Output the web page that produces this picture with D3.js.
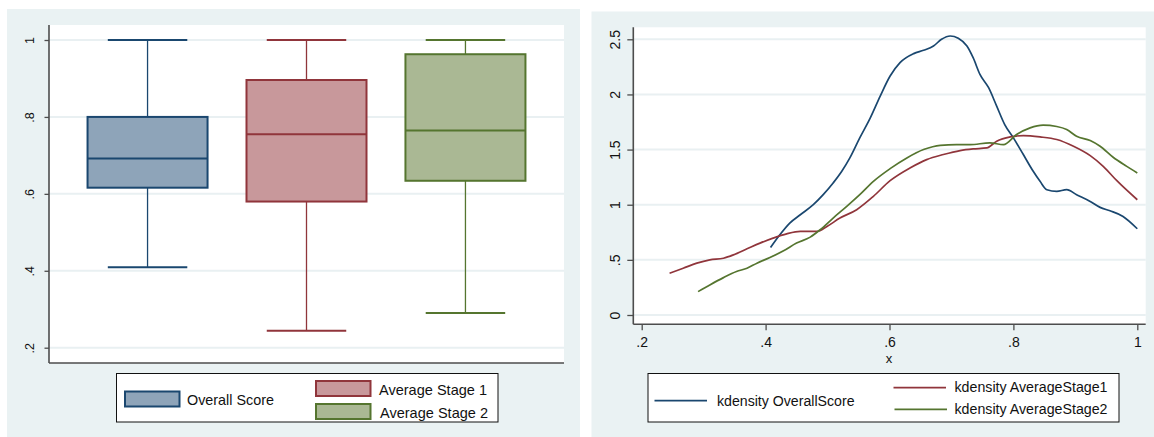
<!DOCTYPE html>
<html><head><meta charset="utf-8">
<script src="https://cdn.jsdelivr.net/npm/d3@7"></script>
<style>html,body{margin:0;padding:0;background:#fff}svg{display:block}text{font-family:"Liberation Sans",Arial,sans-serif;fill:#111}</style>
</head><body><svg id="c" width="1154" height="437"></svg>
<script>
// ---- Box plot data ----
const categories = ["Overall Score", "Average Stage 1", "Average Stage 2"];
const whiskerHigh = [1.0, 1.0, 1.0];
const q3 = [0.800, 0.896, 0.963];
const median = [0.692, 0.755, 0.765];
const q1 = [0.616, 0.580, 0.634];
const whiskerLow = [0.409, 0.244, 0.290];
const boxTicks = [0.2, 0.4, 0.6, 0.8, 1];
const boxTickLabels = [".2", ".4", ".6", ".8", "1"];

// ---- Kernel density data ----
const densNames = ["kdensity OverallScore", "kdensity AverageStage1", "kdensity AverageStage2"];
const overallX = [0.408,0.423,0.439,0.456,0.477,0.493,0.509,0.523,0.536,0.552,0.569,0.585,0.601,0.617,0.639,0.655,0.671,0.684,0.698,0.711,0.725,0.735,0.746,0.760,0.773,0.786,0.800,0.816,0.832,0.843,0.854,0.870,0.886,0.902,0.924,0.940,0.956,0.977,1.0];
const overallY = [0.612,0.727,0.833,0.909,1.0,1.091,1.197,1.303,1.424,1.606,1.788,1.985,2.167,2.288,2.370,2.400,2.439,2.500,2.530,2.509,2.439,2.333,2.182,2.061,1.894,1.727,1.606,1.455,1.303,1.212,1.136,1.121,1.136,1.091,1.030,0.976,0.945,0.894,0.782];
const stage1X = [0.245,0.267,0.289,0.310,0.332,0.348,0.370,0.391,0.412,0.434,0.456,0.483,0.499,0.520,0.547,0.574,0.601,0.633,0.660,0.687,0.714,0.735,0.757,0.773,0.795,0.816,0.843,0.870,0.897,0.924,0.945,0.967,1.0];
const stage1Y = [0.379,0.424,0.470,0.500,0.515,0.545,0.600,0.652,0.697,0.736,0.758,0.758,0.803,0.879,0.955,1.076,1.218,1.333,1.409,1.455,1.491,1.506,1.515,1.576,1.615,1.627,1.615,1.591,1.530,1.445,1.348,1.218,1.045];
const stage2X = [0.291,0.310,0.332,0.353,0.370,0.386,0.407,0.429,0.450,0.472,0.488,0.509,0.531,0.552,0.574,0.601,0.628,0.655,0.682,0.708,0.730,0.762,0.784,0.805,0.827,0.848,0.870,0.886,0.902,0.924,0.940,0.961,0.983,1.0];
const stage2Y = [0.212,0.273,0.339,0.394,0.424,0.470,0.521,0.582,0.652,0.706,0.773,0.879,0.985,1.091,1.212,1.327,1.424,1.500,1.539,1.545,1.545,1.561,1.545,1.636,1.697,1.721,1.709,1.682,1.621,1.582,1.530,1.430,1.348,1.288];
const densXTicks = [0.2, 0.4, 0.6, 0.8, 1];
const densXTickLabels = [".2", ".4", ".6", ".8", "1"];
const densYTicks = [0, 0.5, 1, 1.5, 2, 2.5];
const densYTickLabels = ["0", ".5", "1", "1.5", "2", "2.5"];

const lineColors = ["#1a476f", "#90353b", "#55752f"];
const fillColors = ["#8ea4b9", "#c8989b", "#aab894"];
const bgColor = "#eaf2f3";
const gridColor = "#e9f0f2";
const axisColor = "#4d4d4d";
const FONT = '"Liberation Sans",Arial,sans-serif';

const svg = d3.select("#c");

// ================= LEFT PANEL =================
const L = svg.append("g");
L.append("rect").attr("x", 7).attr("y", 9).attr("width", 573).attr("height", 428).attr("fill", bgColor);
const lx0 = 49, lx1 = 564, ly0 = 25, ly1 = 363;
L.append("rect").attr("x", lx0).attr("y", ly0).attr("width", lx1 - lx0).attr("height", ly1 - ly0).attr("fill", "#fff");
const yB = d3.scaleLinear().domain([0.2, 1]).range([347.7, 40]);
const xB = d3.scalePoint().domain(categories).range([lx0, lx1]).padding(0.62);
const step = xB.step();
L.selectAll(".g").data(boxTicks).join("line")
  .attr("x1", lx0).attr("x2", lx1).attr("y1", d => yB(d)).attr("y2", d => yB(d))
  .attr("stroke", gridColor).attr("stroke-width", 2);
const yAxL = d3.axisLeft(yB).tickValues(boxTicks).tickFormat((d, i) => boxTickLabels[i]).tickSize(4.5).tickSizeOuter(0);
const gyL = L.append("g").attr("transform", `translate(${lx0},0)`).call(yAxL);
gyL.select(".domain").remove();
gyL.selectAll(".tick line").attr("stroke", axisColor).attr("stroke-width", 1.3);
gyL.selectAll(".tick text").attr("transform", "rotate(-90)").attr("x", 0).attr("y", -15).attr("dy", 0)
  .attr("text-anchor", "middle").style("font-size", "12.5px").style("font-family", FONT).attr("fill", "#111");
L.append("line").attr("x1", lx0).attr("x2", lx0).attr("y1", ly0).attr("y2", ly1).attr("stroke", axisColor).attr("stroke-width", 1.6);
L.append("line").attr("x1", lx0).attr("x2", lx1).attr("y1", ly1).attr("y2", ly1).attr("stroke", axisColor).attr("stroke-width", 1.6);
const boxW = step * 0.755, capW = step * 0.5;
categories.forEach((c, i) => {
  const cx = xB(c);
  const g = L.append("g");
  g.append("line").attr("x1", cx).attr("x2", cx).attr("y1", yB(whiskerHigh[i])).attr("y2", yB(q3[i])).attr("stroke", lineColors[i]).attr("stroke-width", 1.3);
  g.append("line").attr("x1", cx).attr("x2", cx).attr("y1", yB(q1[i])).attr("y2", yB(whiskerLow[i])).attr("stroke", lineColors[i]).attr("stroke-width", 1.3);
  g.append("line").attr("x1", cx - capW / 2).attr("x2", cx + capW / 2).attr("y1", yB(whiskerHigh[i])).attr("y2", yB(whiskerHigh[i])).attr("stroke", lineColors[i]).attr("stroke-width", 2);
  g.append("line").attr("x1", cx - capW / 2).attr("x2", cx + capW / 2).attr("y1", yB(whiskerLow[i])).attr("y2", yB(whiskerLow[i])).attr("stroke", lineColors[i]).attr("stroke-width", 2);
  g.append("rect").attr("x", cx - boxW / 2).attr("y", yB(q3[i])).attr("width", boxW).attr("height", yB(q1[i]) - yB(q3[i]))
    .attr("fill", fillColors[i]).attr("stroke", lineColors[i]).attr("stroke-width", 2);
  g.append("line").attr("x1", cx - boxW / 2).attr("x2", cx + boxW / 2).attr("y1", yB(median[i])).attr("y2", yB(median[i])).attr("stroke", lineColors[i]).attr("stroke-width", 2);
});
L.append("rect").attr("x", 116.5).attr("y", 373.5).attr("width", 381.5).attr("height", 48.5).attr("fill", "#fff").attr("stroke", "#111").attr("stroke-width", 1);
const legL = [
  {sx: 125, sy: 391.5, tx: 187, ty: 404.5, tl: 87},
  {sx: 316, sy: 381, tx: 379, ty: 395, tl: 108},
  {sx: 316, sy: 404, tx: 380, ty: 417.5, tl: 108}
];
legL.forEach((p, i) => {
  L.append("rect").attr("x", p.sx).attr("y", p.sy).attr("width", 54.5).attr("height", 15).attr("fill", fillColors[i]).attr("stroke", lineColors[i]).attr("stroke-width", 2);
  L.append("text").attr("x", p.tx).attr("y", p.ty).style("font-size", "15px").attr("textLength", p.tl).attr("lengthAdjust", "spacingAndGlyphs").text(categories[i]);
});

// ================= RIGHT PANEL =================
const R = svg.append("g");
R.append("rect").attr("x", 591.5).attr("y", 11.5).attr("width", 1154 - 591.5).attr("height", 437 - 11.5).attr("fill", bgColor);
const rx0 = 633.3, rx1 = 1145.7, ry0 = 27.3, ry1 = 324.3;
R.append("rect").attr("x", rx0).attr("y", ry0).attr("width", rx1 - rx0).attr("height", ry1 - ry0).attr("fill", "#fff");
const xD = d3.scaleLinear().domain([0.2, 1]).range([641.7, 1137.3]);
const yD = d3.scaleLinear().domain([0, 2.5]).range([315, 39.3]);
R.selectAll(".g").data(densYTicks).join("line")
  .attr("x1", rx0).attr("x2", rx1).attr("y1", d => yD(d)).attr("y2", d => yD(d))
  .attr("stroke", gridColor).attr("stroke-width", 2);
const gyR = R.append("g").attr("transform", `translate(${rx0},0)`).call(d3.axisLeft(yD).tickValues(densYTicks).tickFormat((d, i) => densYTickLabels[i]).tickSize(6).tickSizeOuter(0));
gyR.select(".domain").remove();
gyR.selectAll(".tick line").attr("stroke", axisColor).attr("stroke-width", 1.3);
gyR.selectAll(".tick text").attr("transform", "rotate(-90)").attr("x", 0).attr("y", -13.5).attr("dy", 0)
  .attr("text-anchor", "middle").style("font-size", "14px").style("font-family", FONT).attr("fill", "#111");
const gxR = R.append("g").attr("transform", `translate(0,${ry1})`).call(d3.axisBottom(xD).tickValues(densXTicks).tickFormat((d, i) => densXTickLabels[i]).tickSize(6).tickSizeOuter(0));
gxR.select(".domain").remove();
gxR.selectAll(".tick line").attr("stroke", axisColor).attr("stroke-width", 1.3);
gxR.selectAll(".tick text").attr("y", 22.5).attr("dy", 0).style("font-size", "14px").style("font-family", FONT).attr("fill", "#111");
R.append("line").attr("x1", rx0).attr("x2", rx0).attr("y1", ry0).attr("y2", ry1).attr("stroke", axisColor).attr("stroke-width", 1.6);
R.append("line").attr("x1", rx0).attr("x2", rx1).attr("y1", ry1).attr("y2", ry1).attr("stroke", axisColor).attr("stroke-width", 1.6);
R.append("text").attr("x", 889).attr("y", 363).attr("text-anchor", "middle").style("font-size", "13px").text("x");

const series = [[overallX, overallY], [stage1X, stage1Y], [stage2X, stage2Y]];
const line = d3.line().x(d => xD(d[0])).y(d => yD(d[1])).curve(d3.curveMonotoneX);
series.forEach((s, i) => {
  const pts = s[0].map((x, j) => [x, s[1][j]]);
  R.append("path").attr("d", line(pts)).attr("fill", "none").attr("stroke", lineColors[i]).attr("stroke-width", 1.7);
});
R.append("rect").attr("x", 648).attr("y", 373.5).attr("width", 471).attr("height", 48.5).attr("fill", "#fff").attr("stroke", "#111").attr("stroke-width", 1);
const legR = [
  {lx: 654.5, ly: 400.7, tx: 717, ty: 405.5, tl: 137.5},
  {lx: 893.5, ly: 387.7, tx: 954.5, ty: 392.3, tl: 153},
  {lx: 894.5, ly: 409.3, tx: 954.5, ty: 414.3, tl: 153}
];
legR.forEach((p, i) => {
  R.append("line").attr("x1", p.lx).attr("x2", p.lx + 52.5).attr("y1", p.ly).attr("y2", p.ly).attr("stroke", lineColors[i]).attr("stroke-width", 1.8);
  R.append("text").attr("x", p.tx).attr("y", p.ty).style("font-size", "14px").attr("textLength", p.tl).attr("lengthAdjust", "spacingAndGlyphs").text(densNames[i]);
});
</script></body></html>
